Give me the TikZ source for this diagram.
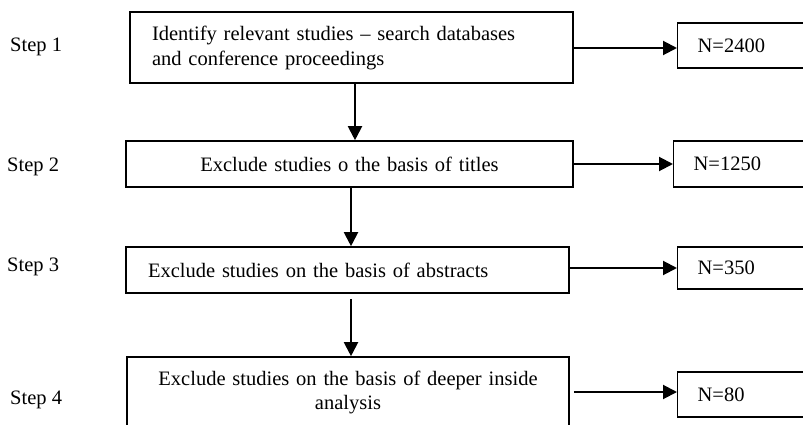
\documentclass[tikz,border=0pt]{standalone}
\usepackage{fontspec}
\setmainfont{Liberation Serif}
\usetikzlibrary{arrows.meta,positioning}
\begin{document}
\begin{tikzpicture}[x=1pt,y=-1pt,
  every node/.style={font=\fontsize{20.5}{24}\selectfont},
  stagebox/.style={draw,line width=1.6pt,rectangle,inner sep=0pt,minimum height=46pt},
  countbox/.style={draw,line width=1.3pt,rectangle,minimum width=160pt,minimum height=45pt,
    inner xsep=20pt,text width=120pt,align=left},
  steplabel/.style={anchor=west,inner sep=0pt},
  flow/.style={line width=2pt,-{Triangle[length=14pt,width=14pt]}}]
\useasboundingbox (0,0) rectangle (803,425);
\clip (0,0) rectangle (803,425);

% step labels
\node[steplabel] (s1) at (10,47) {Step 1};
\node[steplabel] (s2) at (7,167) {Step 2};
\node[steplabel] (s3) at (7,267) {Step 3};
\node[steplabel] (s4) at (10,400) {Step 4};

% stage boxes
\node[stagebox,minimum width=443pt,minimum height=71pt,text width=399pt,align=left,
  font=\fontsize{20.5}{25}\selectfont] (m1) at (351.5,47.5)
  {\raisebox{-3pt}{\parbox{399pt}{Identify relevant studies -- search databases\\and conference proceedings}}};
\node[stagebox,minimum width=447pt,text width=447pt,align=center] (m2) at (349.5,164)
  {Exclude studies o the basis of titles};
\node[stagebox,minimum width=443pt,text width=399pt,align=left] (m3) at (347.5,270)
  {Exclude studies on the basis of abstracts};
\node[stagebox,minimum width=442pt,minimum height=70pt,text width=442pt,align=center] (m4) at (348,392)
  {Exclude studies on the basis of deeper inside\\analysis};

% count boxes
\node[countbox,anchor=west] (n1) at (677,45.5) {N=2400};
\node[countbox,anchor=west,minimum height=46pt] (n2) at (673,164) {N=1250};
\node[countbox,anchor=west,minimum height=42pt] (n3) at (677,268) {N=350};
\node[countbox,anchor=west] (n4) at (677,394.5) {N=80};

% vertical flow
\draw[flow] ([xshift=3.5pt]m1.south) -- ([xshift=3.5pt]m1.south |- m2.north);
\draw[flow] ([xshift=1.5pt]m2.south) -- ([xshift=1.5pt]m2.south |- m3.north);
\draw[flow] ([xshift=3.5pt,yshift=-5pt]m3.south) -- ([xshift=3.5pt]m3.south |- m4.north);

% horizontal flow
\draw[flow] (m1.east |- 0,48) -- (n1.west |- 0,48);
\draw[flow] (m2.east) -- (n2.west);
\draw[flow] (m3.east |- n3.west) -- (n3.west);
\draw[flow] ([xshift=4pt]m4.east) -- (n4.west |- m4.east);
\end{tikzpicture}
\end{document}
